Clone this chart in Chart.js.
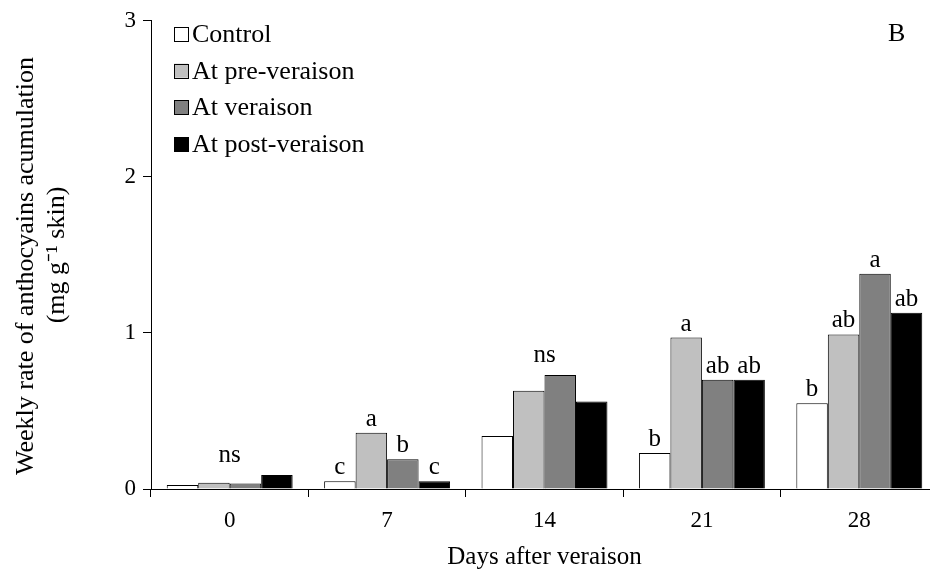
<!DOCTYPE html>
<html>
<head>
<meta charset="utf-8">
<script src="https://cdn.jsdelivr.net/npm/chart.js@4/dist/chart.umd.min.js"></script>
<style>
  html, body { margin: 0; padding: 0; background: #fff; overflow: hidden; }
  #wrap { width: 940px; height: 572px; }
</style>
</head>
<body>
<div id="wrap"><canvas id="myChart" width="940" height="572"></canvas></div>
<script>
// days after veraison
const days = ['0', '7', '14', '21', '28'];
const seriesNames = ['Control', 'At pre-veraison', 'At veraison', 'At post-veraison'];
// weekly rate, mg g-1 skin
const control = [0.025, 0.05, 0.34, 0.23, 0.55];
const preVeraison = [0.04, 0.36, 0.63, 0.97, 0.99];
const atVeraison = [0.035, 0.19, 0.73, 0.70, 1.38];
const postVeraison = [0.09, 0.05, 0.56, 0.70, 1.13];
// significance letters
const controlLetters = ['', 'c', '', 'b', 'b'];
const preLetters = ['', 'a', '', 'a', 'ab'];
const verLetters = ['', 'b', '', 'ab', 'a'];
const postLetters = ['', 'c', '', 'ab', 'ab'];
const groupNotes = ['ns', '', 'ns', '', ''];
const yTicks = [0, 1, 2, 3];
const yTitle = ['Weekly rate of anthocyains acumulation', '(mg g\u207B\u00B9 skin)'];

const colors = ['#ffffff', '#c0c0c0', '#808080', '#000000'];
const serif = 'Liberation Serif';

Chart.defaults.font.family = serif;
Chart.defaults.font.size = 23;
Chart.defaults.color = '#000';

// letters over bars, ns over groups, legend, y title and panel letter
const annotate = {
  id: 'annotate',
  afterDatasetsDraw(chart) {
    const ctx = chart.ctx;
    const letters = [controlLetters, preLetters, verLetters, postLetters];
    ctx.save();
    ctx.font = `25px "${serif}"`;
    ctx.fillStyle = '#000';
    ctx.textAlign = 'center';
    ctx.textBaseline = 'alphabetic';
    letters.forEach((arr, di) => {
      const meta = chart.getDatasetMeta(di);
      meta.data.forEach((bar, i) => {
        if (arr[i]) ctx.fillText(arr[i], bar.x, bar.y - 7);
      });
    });
    // ns centered over group
    groupNotes.forEach((note, i) => {
      if (!note) return;
      let top = Infinity;
      chart.data.datasets.forEach((d, di) => {
        top = Math.min(top, chart.getDatasetMeta(di).data[i].y);
      });
      const x = chart.scales.x.getPixelForValue(i);
      ctx.fillText(note, x, top - 13);
    });
    // legend
    ctx.font = `26px "${serif}"`;
    ctx.textAlign = 'left';
    seriesNames.forEach((name, i) => {
      const base = 42 + i * 36.7;
      ctx.fillStyle = colors[i];
      ctx.fillRect(174, base - 15, 14, 14);
      ctx.strokeStyle = '#000';
      ctx.lineWidth = 1;
      ctx.strokeRect(174.5, Math.round(base - 15) + 0.5, 14, 14);
      ctx.fillStyle = '#000';
      ctx.fillText(name, 192, base);
    });
    ctx.fillText('B', 888, 41);
    // y title, two lines
    ctx.textAlign = 'center';
    ctx.translate(33, 266);
    ctx.rotate(-Math.PI / 2);
    ctx.fillText(yTitle[0], 0, 0);
    ctx.fillText(yTitle[1], 11, 31);
    ctx.restore();
  }
};

const datasets = [control, preVeraison, atVeraison, postVeraison].map((vals, i) => ({
  label: seriesNames[i],
  data: vals,
  backgroundColor: colors[i],
  borderColor: '#000',
  borderWidth: 1,
  borderSkipped: 'bottom',
  barPercentage: 1,
  categoryPercentage: 0.8,
}));

new Chart(document.getElementById('myChart'), {
  type: 'bar',
  data: { labels: days, datasets: datasets },
  plugins: [annotate],
  options: {
    responsive: false,
    animation: false,
    layout: { padding: { top: 17, right: 2, left: 0, bottom: 0 } },
    plugins: { legend: { display: false }, tooltip: { enabled: false } },
    scales: {
      x: {
        afterFit: (s) => { s.height = 83; },
        grid: {
          offset: true,
          drawOnChartArea: false,
          tickLength: 8,
          color: '#000',
        },
        border: { color: '#000', width: 1 },
        ticks: { padding: 10, font: { size: 23 } },
        title: {
          display: true,
          text: 'Days after veraison',
          font: { size: 25 },
          padding: { top: 0, bottom: 0 },
        },
      },
      y: {
        min: 0,
        max: 3,
        afterFit: (s) => { s.width = 151; },
        afterBuildTicks: (s) => { s.ticks = yTicks.map((v) => ({ value: v })); },
        grid: {
          drawOnChartArea: false,
          tickLength: 8,
          color: '#000',
        },
        border: { color: '#000', width: 1 },
        ticks: { padding: 7, font: { size: 23 } },
      },
    },
  },
});
</script>
</body>
</html>
